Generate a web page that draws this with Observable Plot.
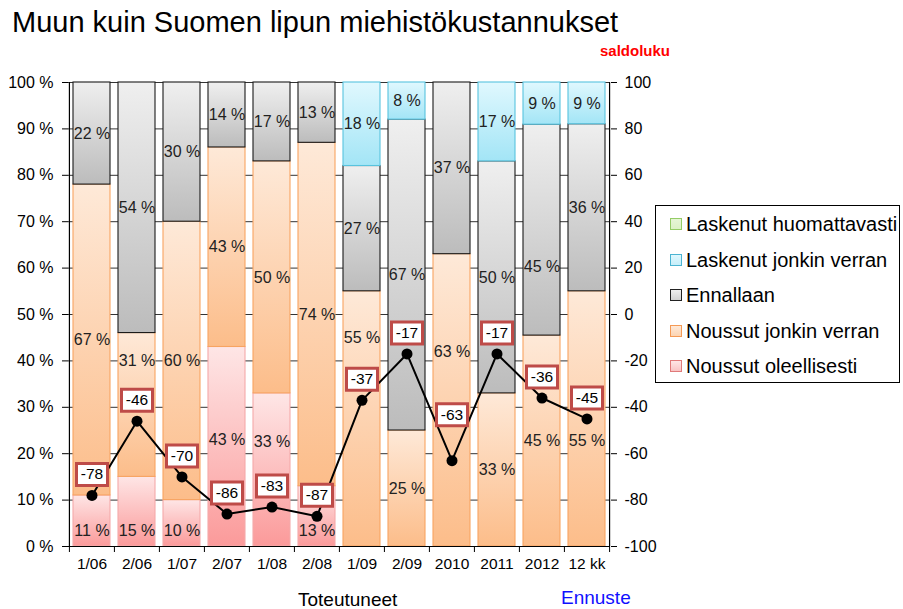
<!DOCTYPE html>
<html><head><meta charset="utf-8">
<script src="https://cdn.jsdelivr.net/npm/d3@7"></script>
<script src="https://cdn.jsdelivr.net/npm/@observablehq/plot@0.6"></script>
<style>
body{margin:0;background:#fff;font-family:"Liberation Sans",Arial,sans-serif;}
#wrap{position:relative;width:903px;height:609px;overflow:hidden;background:#fff;}
#title{position:absolute;left:12px;top:6px;font-size:29px;color:#000;white-space:nowrap;}
#saldo{position:absolute;left:600px;top:42px;font-size:15px;font-weight:bold;color:#ff0000;}
#chart{position:absolute;left:0;top:60px;}
#legend{position:absolute;left:655px;top:205px;width:245px;height:178px;border:1px solid #000;box-sizing:border-box;background:#fff;}
.li{position:absolute;left:14px;font-size:20px;color:#000;white-space:nowrap;line-height:20px;}
.sq{display:inline-block;width:10px;height:10px;margin-right:4px;vertical-align:1px;}
#tot{position:absolute;left:298px;top:589px;font-size:19px;color:#000;}
#enn{position:absolute;left:561px;top:587px;font-size:19px;color:#1010ff;}
</style></head><body>
<div id="wrap">
  <div id="title">Muun kuin Suomen lipun miehistökustannukset</div>
  <div id="saldo">saldoluku</div>
  <div id="chart"></div>
  <div id="legend"></div>
  <div id="tot">Toteutuneet</div>
  <div id="enn">Ennuste</div>
</div>
<script>
const categories = ["1/06","2/06","1/07","2/07","1/08","2/08","1/09","2/09","2010","2011","2012","12 kk"];
const seriesNames = ["Laskenut huomattavasti","Laskenut jonkin verran","Ennallaan","Noussut jonkin verran","Noussut oleellisesti"];
const laskenutHuomattavasti = [0,0,0,0,0,0,0,0,0,0,0,0];
const laskenutJonkinVerran  = [0,0,0,0,0,0,18,8,0,17,9,9];
const ennallaan             = [22,54,30,14,17,13,27,67,37,50,45,36];
const noussutJonkinVerran   = [67,31,60,43,50,74,55,25,63,33,45,55];
const noussutOleellisesti   = [11,15,10,43,33,13,0,0,0,0,0,0];
const saldoluku = [-78,-46,-70,-86,-83,-87,-37,-17,-63,-17,-36,-45];
const leftTicks = [0,10,20,30,40,50,60,70,80,90,100];

// styles
const seriesStyle = {
  "Noussut oleellisesti":   {id:"gRed",    top:"#fee6e6", bot:"#fb9a9a", stroke:"#f5a9a9", sq:"#f9c4c4", sqb:"#e07a7a"},
  "Noussut jonkin verran":  {id:"gOrange", top:"#fee9d8", bot:"#fcbd8a", stroke:"#f7a462", sq:"#fcd4b2", sqb:"#f59a55"},
  "Ennallaan":              {id:"gGray",   top:"#efefef", bot:"#bcbcbc", stroke:"#1a1a1a", sq:"#d2d2d2", sqb:"#222"},
  "Laskenut jonkin verran": {id:"gBlue",   top:"#e0f8fe", bot:"#a3e5f6", stroke:"#58c3de", sq:"#c6eef9", sqb:"#4bb4d2"},
  "Laskenut huomattavasti": {id:"gGreen",  top:"#e6f5d6", bot:"#b6e08e", stroke:"#8cc763", sq:"#dcf1c6", sqb:"#94cc66"}
};
const valuesBySeries = {
  "Noussut oleellisesti": noussutOleellisesti,
  "Noussut jonkin verran": noussutJonkinVerran,
  "Ennallaan": ennallaan,
  "Laskenut jonkin verran": laskenutJonkinVerran,
  "Laskenut huomattavasti": laskenutHuomattavasti
};
const stackOrder = ["Noussut oleellisesti","Noussut jonkin verran","Ennallaan","Laskenut jonkin verran","Laskenut huomattavasti"];

// label nudges (fraction units) to match manual label placement
const nudge = {
  "1/06|Noussut oleellisesti": -0.021, "2/06|Noussut oleellisesti": -0.041,
  "1/07|Noussut oleellisesti": -0.016, "2/08|Noussut oleellisesti": -0.031,
  "2/07|Noussut oleellisesti": 0.015, "1/08|Noussut oleellisesti": 0.06,
  "2/06|Noussut jonkin verran": 0.095, "1/09|Noussut jonkin verran": 0.175,
  "2010|Noussut jonkin verran": 0.105, "12 kk|Noussut jonkin verran": -0.047,
  "2012|Ennallaan": -0.08
};

const rows = [];
categories.forEach((c, i) => {
  const total = stackOrder.reduce((s, k) => s + valuesBySeries[k][i], 0);
  let acc = 0;
  for (const k of stackOrder) {
    const v = valuesBySeries[k][i];
    if (v > 0) {
      const y1 = acc / total, y2 = (acc + v) / total;
      rows.push({cat: c, series: k, value: v, y1, y2,
        ly: (y1 + y2) / 2 + (nudge[c + "|" + k] || 0),
        fill: `url(#${seriesStyle[k].id})`, stroke: seriesStyle[k].stroke});
    }
    acc += v;
  }
});
const saldoRows = categories.map((c, i) => ({cat: c, s: saldoluku[i], y: (saldoluku[i] + 100) / 200}));

const step = 542 / 12;
const boxSymbol = {draw(ctx) { ctx.rect(-15.5, -11, 31, 22); }};

const svg = Plot.plot({
  width: 903, height: 549,
  marginLeft: 68, marginRight: 293, marginTop: 22, marginBottom: 63,
  style: {fontFamily: "'Liberation Sans', Arial, sans-serif", fontSize: "15px", color: "#000", background: "transparent"},
  x: {type: "band", domain: categories, paddingInner: 0.18, paddingOuter: 0.09, label: null},
  y: {domain: [0, 1], label: null},
  color: {type: "identity"},
  marks: [
    Plot.ruleY(leftTicks.map(t => t / 100), {stroke: "#333", strokeWidth: 1}),
    Plot.barY(rows, {x: "cat", y1: "y1", y2: "y2", fill: "fill", stroke: "stroke", strokeWidth: 1.1}),
    Plot.ruleY([0], {stroke: "#000", strokeWidth: 1.2}),
    Plot.ruleX([categories[0]], {x: d => d, dx: -step / 2, y1: 0, y2: 1, stroke: "#000", strokeWidth: 1.2}),
    Plot.ruleX([categories[categories.length - 1]], {x: d => d, dx: step / 2, y1: 0, y2: 1, stroke: "#000", strokeWidth: 1.2}),
    Plot.ruleX(categories, {x: d => d, dx: -step / 2, y1: 0, y2: 0, insetBottom: -6, stroke: "#000"}),
    Plot.ruleX([categories[categories.length - 1]], {x: d => d, dx: step / 2, y1: 0, y2: 0, insetBottom: -6, stroke: "#000"}),
    Plot.axisY({anchor: "left", ticks: leftTicks.map(t => t / 100), tickFormat: d => Math.round(d * 100) + " %", tickSize: 6, tickPadding: 9, fontSize: 16, label: null}),
    Plot.axisY({anchor: "right", ticks: leftTicks.map(t => t / 100), tickFormat: d => String(Math.round(d * 200 - 100)), tickSize: 6, tickPadding: 8, fontSize: 16, label: null}),
    Plot.axisX({tickSize: 0, tickPadding: 11, fontSize: 15.5, label: null}),
    Plot.text(rows, {x: "cat", y: "ly", text: d => d.value + " %", fill: "#222", fontSize: 16}),
    Plot.line(saldoRows, {x: "cat", y: "y", stroke: "#000", strokeWidth: 2}),
    Plot.dot(saldoRows, {x: "cat", y: "y", r: 5.5, fill: "#000", stroke: "none"}),
    Plot.dot(saldoRows.filter(d => d.cat !== "2010"), {x: "cat", y: "y", dy: -21, symbol: boxSymbol, fill: "#fff", stroke: "#be4b48", strokeWidth: 3}),
    Plot.dot(saldoRows.filter(d => d.cat === "2010"), {x: "cat", y: "y", dy: -46, symbol: boxSymbol, fill: "#fff", stroke: "#be4b48", strokeWidth: 3}),
    Plot.text(saldoRows.filter(d => d.cat !== "2010"), {x: "cat", y: "y", dy: -21, text: d => String(d.s), fill: "#000", fontSize: 15.5}),
    Plot.text(saldoRows.filter(d => d.cat === "2010"), {x: "cat", y: "y", dy: -46, text: d => String(d.s), fill: "#000", fontSize: 15.5})
  ]
});

const defs = d3.select(svg).insert("defs", ":first-child");
for (const k of stackOrder) {
  const st = seriesStyle[k];
  const g = defs.append("linearGradient").attr("id", st.id).attr("x1", 0).attr("y1", 0).attr("x2", 0).attr("y2", 1);
  g.append("stop").attr("offset", "0%").attr("stop-color", st.top);
  g.append("stop").attr("offset", "100%").attr("stop-color", st.bot);
}
document.getElementById("chart").appendChild(svg);

// legend
const legend = document.getElementById("legend");
seriesNames.forEach((name, i) => {
  const st = seriesStyle[name];
  const div = document.createElement("div");
  div.className = "li";
  div.style.top = (8 + i * 35.5) + "px";
  const sq = document.createElement("span");
  sq.className = "sq";
  sq.style.background = `linear-gradient(${st.top}, ${st.sq})`;
  sq.style.border = `1px solid ${st.sqb}`;
  div.appendChild(sq);
  div.appendChild(document.createTextNode(name));
  legend.appendChild(div);
});
</script>
</body></html>
